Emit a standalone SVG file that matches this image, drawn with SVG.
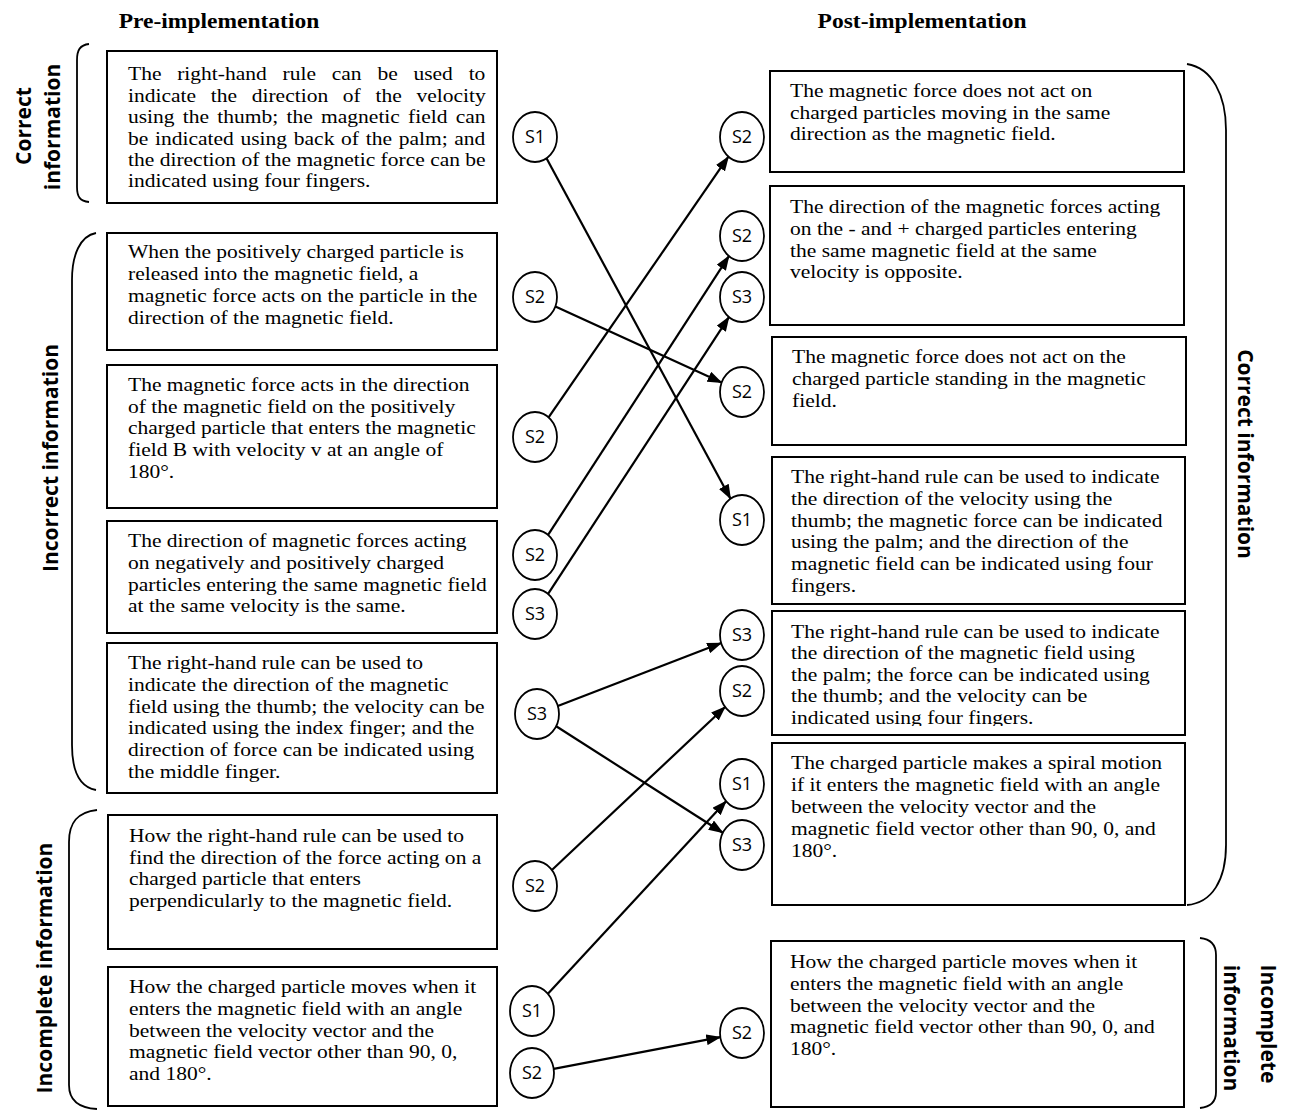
<svg xmlns="http://www.w3.org/2000/svg" width="1295" height="1111" viewBox="0 0 1295 1111">
<style>
.box{fill:#fff;stroke:#000;stroke-width:2}
.t{font-family:"Liberation Serif","Times New Roman",serif;font-size:18px;fill:#000}
.hd{font-family:"Liberation Serif","Times New Roman",serif;font-size:21px;font-weight:bold;fill:#000;text-anchor:middle}
.lab{font-family:"Open Sans","Liberation Sans",sans-serif;font-size:21px;font-weight:bold;fill:#000;text-anchor:middle}
.br{fill:none;stroke:#000;stroke-width:1.8}
.cir{fill:#fff;stroke:#000;stroke-width:1.8}
.cl{font-family:"Open Sans","Liberation Sans",sans-serif;font-size:18px;fill:#000;text-anchor:middle}
.con{stroke:#000;stroke-width:2.2;fill:none;marker-end:url(#ah)}
</style>
<defs>
<marker id="ah" viewBox="0 0 15 11" refX="14" refY="5.5" markerWidth="15" markerHeight="11" markerUnits="userSpaceOnUse" orient="auto"><path d="M0,0 L15,5.5 L0,11 z" fill="#000"/></marker>
<clipPath id="c5" clipPathUnits="userSpaceOnUse"><rect x="772" y="611" width="413" height="115"/></clipPath>
</defs>
<rect width="1295" height="1111" fill="#fff"/>

<g id="headers">
<text class="hd" transform="translate(219,28) scale(1.12,1)">Pre-implementation</text>
<text class="hd" transform="translate(922,28) scale(1.12,1)">Post-implementation</text>
</g>

<g id="labels">
<path class="br" d="M89,44 C80,45 77,50 77,60 L77,187 C77,197 80,201 89,202"/>
<text class="lab" transform="translate(31,126) rotate(-90)">Correct</text>
<text class="lab" transform="translate(60,127) rotate(-90)">information</text>
<path class="br" d="M96,233 C80,236 72,255 72,280 L72,745 C72,772 80,787 96,790"/>
<text class="lab" transform="translate(58,458) rotate(-90)">Incorrect information</text>
<path class="br" d="M97,810 C78,812 69,822 69,842 L69,1085 C69,1100 78,1108 97,1109"/>
<text class="lab" transform="translate(52,968) rotate(-90)">Incomplete information</text>
<path class="br" d="M1187,64 C1212,68 1226,95 1226,130 L1226,845 C1226,880 1212,903 1187,905"/>
<text class="lab" transform="translate(1238,454) rotate(90)">Correct information</text>
<path class="br" d="M1200,938 C1210,939 1216,944 1216,955 L1216,1092 C1216,1102 1210,1107 1200,1108"/>
<text class="lab" transform="translate(1261,1024) rotate(90)">Incomplete</text>
<text class="lab" transform="translate(1224,1028) rotate(90)">information</text>
</g>

<g id="L1">
<rect class="box" x="107" y="51" width="390" height="152"/>
<g transform="translate(128,0) scale(1.195,1)">
<text class="t" y="80" style="word-spacing:8.7px">The right-hand rule can be used to</text>
<text class="t" y="102" style="word-spacing:7.8px">indicate the direction of the velocity</text>
<text class="t" y="123" style="word-spacing:2.4px">using the thumb; the magnetic field can</text>
<text class="t" y="145" style="word-spacing:1.1px">be indicated using back of the palm; and</text>
<text class="t" y="166">the direction of the magnetic force can be</text>
<text class="t" y="187">indicated using four fingers.</text>
</g>
</g>

<g id="L2">
<rect class="box" x="107" y="233" width="390" height="117"/>
<g transform="translate(128,0) scale(1.195,1)">
<text class="t" y="258">When the positively charged particle is</text>
<text class="t" y="280">released into the magnetic field, a</text>
<text class="t" y="302">magnetic force acts on the particle in the</text>
<text class="t" y="324">direction of the magnetic field.</text>
</g>
</g>

<g id="L3">
<rect class="box" x="107" y="365" width="390" height="143"/>
<g transform="translate(128,0) scale(1.195,1)">
<text class="t" y="391">The magnetic force acts in the direction</text>
<text class="t" y="413">of the magnetic field on the positively</text>
<text class="t" y="434">charged particle that enters the magnetic</text>
<text class="t" y="456">field B with velocity v at an angle of</text>
<text class="t" y="478">180°.</text>
</g>
</g>

<g id="L4">
<rect class="box" x="107" y="521" width="390" height="112"/>
<g transform="translate(128,0) scale(1.195,1)">
<text class="t" y="547">The direction of magnetic forces acting</text>
<text class="t" y="569">on negatively and positively charged</text>
<text class="t" y="591">particles entering the same magnetic field</text>
<text class="t" y="612">at the same velocity is the same.</text>
</g>
</g>

<g id="L5">
<rect class="box" x="107" y="643" width="390" height="150"/>
<g transform="translate(128,0) scale(1.195,1)">
<text class="t" y="669">The right-hand rule can be used to</text>
<text class="t" y="691">indicate the direction of the magnetic</text>
<text class="t" y="713">field using the thumb; the velocity can be</text>
<text class="t" y="734">indicated using the index finger; and the</text>
<text class="t" y="756">direction of force can be indicated using</text>
<text class="t" y="778">the middle finger.</text>
</g>
</g>

<g id="L6">
<rect class="box" x="108" y="815" width="389" height="134"/>
<g transform="translate(129,0) scale(1.195,1)">
<text class="t" y="842">How the right-hand rule can be used to</text>
<text class="t" y="864">find the direction of the force acting on a</text>
<text class="t" y="885">charged particle that enters</text>
<text class="t" y="907">perpendicularly to the magnetic field.</text>
</g>
</g>

<g id="L7">
<rect class="box" x="108" y="967" width="389" height="139"/>
<g transform="translate(129,0) scale(1.195,1)">
<text class="t" y="993">How the charged particle moves when it</text>
<text class="t" y="1015">enters the magnetic field with an angle</text>
<text class="t" y="1037">between the velocity vector and the</text>
<text class="t" y="1058">magnetic field vector other than 90, 0,</text>
<text class="t" y="1080">and 180°.</text>
</g>
</g>

<g id="R1">
<rect class="box" x="770" y="71" width="414" height="101"/>
<g transform="translate(790,0) scale(1.195,1)">
<text class="t" y="97">The magnetic force does not act on</text>
<text class="t" y="119">charged particles moving in the same</text>
<text class="t" y="140">direction as the magnetic field.</text>
</g>
</g>

<g id="R2">
<rect class="box" x="770" y="186" width="414" height="139"/>
<g transform="translate(790,0) scale(1.195,1)">
<text class="t" y="213">The direction of the magnetic forces acting</text>
<text class="t" y="235">on the - and + charged particles entering</text>
<text class="t" y="257">the same magnetic field at the same</text>
<text class="t" y="278">velocity is opposite.</text>
</g>
</g>

<g id="R3">
<rect class="box" x="772" y="337" width="414" height="108"/>
<g transform="translate(792,0) scale(1.195,1)">
<text class="t" y="363">The magnetic force does not act on the</text>
<text class="t" y="385">charged particle standing in the magnetic</text>
<text class="t" y="407">field.</text>
</g>
</g>

<g id="R4">
<rect class="box" x="772" y="457" width="413" height="147"/>
<g transform="translate(791,0) scale(1.195,1)">
<text class="t" y="483">The right-hand rule can be used to indicate</text>
<text class="t" y="505">the direction of the velocity using the</text>
<text class="t" y="527">thumb; the magnetic force can be indicated</text>
<text class="t" y="548">using the palm; and the direction of the</text>
<text class="t" y="570">magnetic field can be indicated using four</text>
<text class="t" y="592">fingers.</text>
</g>
</g>

<g id="R5">
<rect class="box" x="772" y="611" width="413" height="124"/>
<g clip-path="url(#c5)">
<g transform="translate(791,0) scale(1.195,1)">
<text class="t" y="638">The right-hand rule can be used to indicate</text>
<text class="t" y="659">the direction of the magnetic field using</text>
<text class="t" y="681">the palm; the force can be indicated using</text>
<text class="t" y="702">the thumb; and the velocity can be</text>
<text class="t" y="724">indicated using four fingers.</text>
</g>
</g>
</g>

<g id="R6">
<rect class="box" x="772" y="743" width="413" height="162"/>
<g transform="translate(791,0) scale(1.195,1)">
<text class="t" y="769">The charged particle makes a spiral motion</text>
<text class="t" y="791">if it enters the magnetic field with an angle</text>
<text class="t" y="813">between the velocity vector and the</text>
<text class="t" y="835">magnetic field vector other than 90, 0, and</text>
<text class="t" y="857">180°.</text>
</g>
</g>

<g id="R7">
<rect class="box" x="771" y="941" width="413" height="166"/>
<g transform="translate(790,0) scale(1.195,1)">
<text class="t" y="968">How the charged particle moves when it</text>
<text class="t" y="990">enters the magnetic field with an angle</text>
<text class="t" y="1012">between the velocity vector and the</text>
<text class="t" y="1033">magnetic field vector other than 90, 0, and</text>
<text class="t" y="1055">180°.</text>
</g>
</g>

<g id="connectors">
<line class="con" x1="546.5" y1="158.3" x2="730.5" y2="498.7"/>
<line class="con" x1="555.4" y1="306.4" x2="721.6" y2="382.6"/>
<line class="con" x1="548.6" y1="417.3" x2="728.4" y2="156.7"/>
<line class="con" x1="548.1" y1="534.9" x2="728.9" y2="256.1"/>
<line class="con" x1="548.1" y1="593.9" x2="728.9" y2="317.1"/>
<line class="con" x1="557.8" y1="706" x2="721.2" y2="643"/>
<line class="con" x1="556.2" y1="726.3" x2="722.8" y2="832.7"/>
<line class="con" x1="551.9" y1="870" x2="725.1" y2="707"/>
<line class="con" x1="547.9" y1="993.8" x2="726.1" y2="801.2"/>
<line class="con" x1="553.7" y1="1068.9" x2="720.3" y2="1037.1"/>
</g>

<g id="nL1"><ellipse class="cir" cx="535" cy="137" rx="22" ry="25"/><text class="cl" x="535" y="143">S1</text></g>
<g id="nL2"><ellipse class="cir" cx="535" cy="297" rx="22" ry="25"/><text class="cl" x="535" y="303">S2</text></g>
<g id="nL3"><ellipse class="cir" cx="535" cy="437" rx="22" ry="25"/><text class="cl" x="535" y="443">S2</text></g>
<g id="nL4"><ellipse class="cir" cx="535" cy="555" rx="22" ry="25"/><text class="cl" x="535" y="561">S2</text></g>
<g id="nL5"><ellipse class="cir" cx="535" cy="614" rx="22" ry="25"/><text class="cl" x="535" y="620">S3</text></g>
<g id="nL6"><ellipse class="cir" cx="537" cy="714" rx="22" ry="25"/><text class="cl" x="537" y="720">S3</text></g>
<g id="nL7"><ellipse class="cir" cx="535" cy="886" rx="22" ry="25"/><text class="cl" x="535" y="892">S2</text></g>
<g id="nL8"><ellipse class="cir" cx="532" cy="1011" rx="22" ry="25"/><text class="cl" x="532" y="1017">S1</text></g>
<g id="nL9"><ellipse class="cir" cx="532" cy="1073" rx="22" ry="25"/><text class="cl" x="532" y="1079">S2</text></g>

<g id="nR1"><ellipse class="cir" cx="742" cy="137" rx="22" ry="25"/><text class="cl" x="742" y="143">S2</text></g>
<g id="nR2"><ellipse class="cir" cx="742" cy="236" rx="22" ry="25"/><text class="cl" x="742" y="242">S2</text></g>
<g id="nR3"><ellipse class="cir" cx="742" cy="297" rx="22" ry="25"/><text class="cl" x="742" y="303">S3</text></g>
<g id="nR4"><ellipse class="cir" cx="742" cy="392" rx="22" ry="25"/><text class="cl" x="742" y="398">S2</text></g>
<g id="nR5"><ellipse class="cir" cx="742" cy="520" rx="22" ry="25"/><text class="cl" x="742" y="526">S1</text></g>
<g id="nR6"><ellipse class="cir" cx="742" cy="635" rx="22" ry="25"/><text class="cl" x="742" y="641">S3</text></g>
<g id="nR7"><ellipse class="cir" cx="742" cy="691" rx="22" ry="25"/><text class="cl" x="742" y="697">S2</text></g>
<g id="nR8"><ellipse class="cir" cx="742" cy="784" rx="22" ry="25"/><text class="cl" x="742" y="790">S1</text></g>
<g id="nR9"><ellipse class="cir" cx="742" cy="845" rx="22" ry="25"/><text class="cl" x="742" y="851">S3</text></g>
<g id="nR10"><ellipse class="cir" cx="742" cy="1033" rx="22" ry="25"/><text class="cl" x="742" y="1039">S2</text></g>
</svg>
